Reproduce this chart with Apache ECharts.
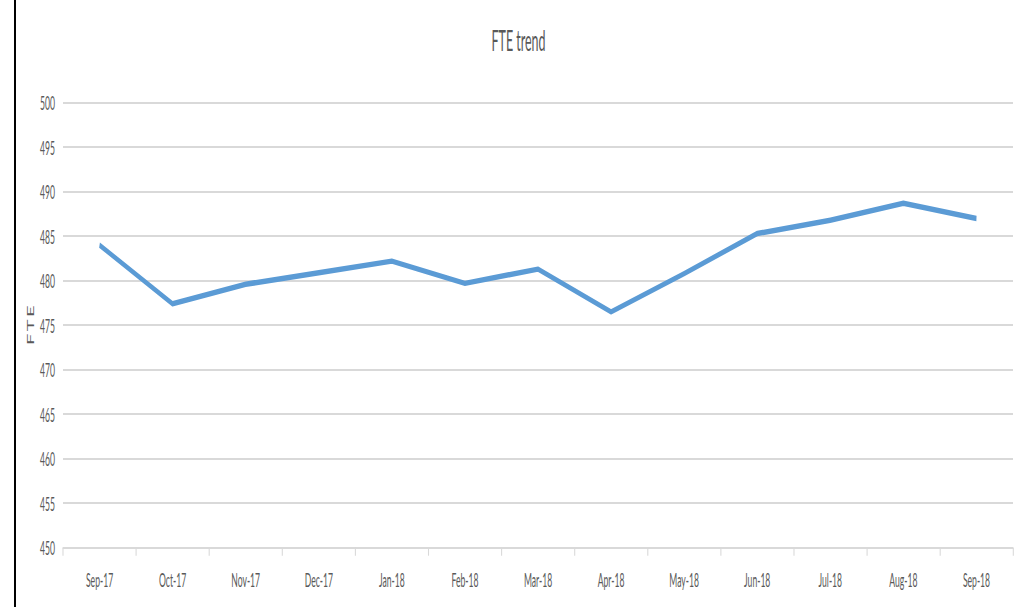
<!DOCTYPE html>
<html>
<head>
<meta charset="utf-8">
<script src="https://cdn.jsdelivr.net/npm/echarts@6/dist/echarts.min.js"></script>
<style>
html,body{margin:0;padding:0;background:#fff;overflow:hidden;width:1017px;height:607px}
#c{position:absolute;left:0;top:0;height:607px;transform-origin:0 0}
</style>
</head>
<body>
<div id="c"></div>
<script>
const categories = ['Sep-17','Oct-17','Nov-17','Dec-17','Jan-18','Feb-18','Mar-18','Apr-18','May-18','Jun-18','Jul-18','Aug-18','Sep-18'];
const fteValues = [484.0, 477.4, 479.6, 480.9, 482.2, 479.7, 481.3, 476.5, 480.8, 485.3, 486.8, 488.7, 487.0];
const yTicks = {min: 450, max: 500, interval: 5};

// The reference is a horizontally compressed chart: draw wide, then squeeze.
const S = 0.43;
const W = 1017 / S;
const el = document.getElementById('c');
el.style.width = W + 'px';
el.style.transform = 'scaleX(' + S + ')';
const X = v => v / S;

const font = 'Lato, "Open Sans", sans-serif';
const chart = echarts.init(el, null, {renderer: 'svg', width: W, height: 607});
chart.setOption({
  animation: false,
  backgroundColor: '#fff',
  grid: {left: X(63), right: X(4), top: 102.7, bottom: 59.3, containLabel: false},
  xAxis: {
    type: 'category', data: categories, boundaryGap: true,
    axisLine: {lineStyle: {color: '#d9d9d9', width: 2}},
    axisTick: {show: true, length: 8, lineStyle: {color: '#d9d9d9', width: 2.5}},
    axisLabel: {fontFamily: font, fontSize: 20, color: '#595959', margin: 21}
  },
  yAxis: {
    type: 'value', min: yTicks.min, max: yTicks.max, interval: yTicks.interval,
    name: 'F\u2009T\u2009E', nameLocation: 'middle', nameGap: X(28), nameRotate: 90, nameMoveOverlap: false,
    nameTextStyle: {fontFamily: font, fontSize: 20, color: '#595959'},
    axisLine: {show: false}, axisTick: {show: false},
    axisLabel: {fontFamily: font, fontSize: 20, color: '#595959', margin: X(8)},
    splitLine: {lineStyle: {color: '#d9d9d9', width: 2}}
  },
  series: [{
    type: 'line', data: fteValues, showSymbol: false, symbol: 'none',
    lineStyle: {color: '#5b9bd5', width: 5.5, cap: 'butt', join: 'round'}
  }],
  graphic: [
    {type: 'text', x: X(518.5), y: 25,
     style: {text: 'FTE trend', textAlign: 'center', textVerticalAlign: 'top',
             font: 'normal 29px ' + font, fill: '#595959'}},
    {type: 'line', shape: {x1: X(15), y1: 0, x2: X(15), y2: 607},
     style: {stroke: '#000', lineWidth: X(2)}}
  ]
});
</script>
</body>
</html>
